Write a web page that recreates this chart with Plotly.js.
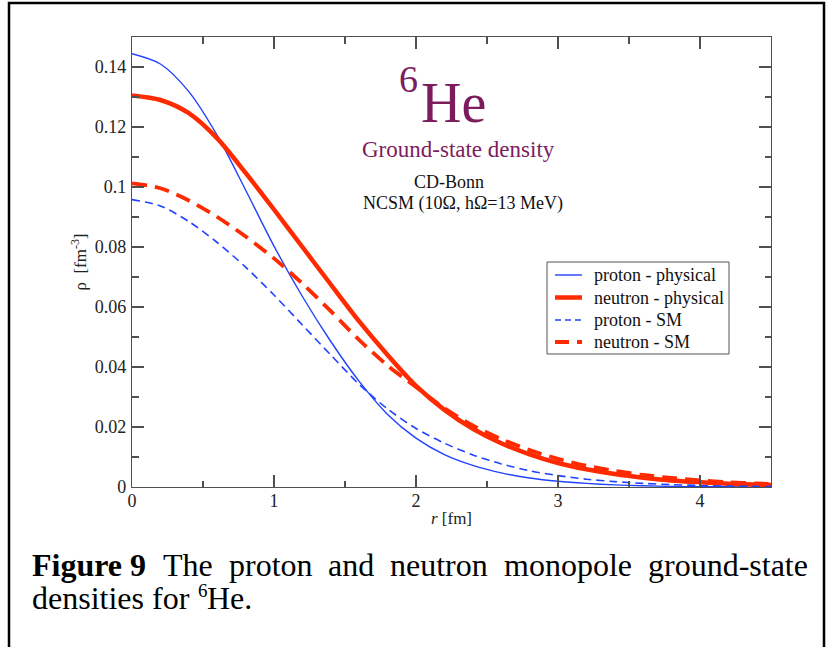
<!DOCTYPE html>
<html>
<head>
<meta charset="utf-8">
<script src="https://cdn.plot.ly/plotly-3.0.1.min.js"></script>
<style>
html,body{margin:0;padding:0;background:#fff;}
#chart{width:827px;height:647px;}
</style>
</head>
<body>
<div id="chart"></div>
<script>
// ---- data ----
const r = [0,0.2,0.4,0.6,0.8,1.0,1.2,1.4,1.6,1.8,2.0,2.2,2.4,2.6,2.8,3.0,3.2,3.4,3.6,3.8,4.0,4.2,4.4,4.5];
const protonPhysical  = [0.1444,0.1410,0.1318,0.1172,0.0990,0.0803,0.0635,0.0485,0.0352,0.0242,0.0163,0.0108,0.0072,0.0047,0.0030,0.0019,0.0012,0.0007,0.0004,0.0002,0.0001,0.0001,0.0000,0.0000];
const neutronPhysical = [0.1305,0.1290,0.1246,0.1162,0.1047,0.0925,0.0800,0.0675,0.0552,0.0440,0.0337,0.0257,0.0194,0.0146,0.0109,0.0080,0.0059,0.0043,0.0031,0.0022,0.0016,0.0011,0.0008,0.0007];
const protonSM        = [0.0958,0.0937,0.0885,0.0815,0.0733,0.0640,0.0540,0.0440,0.0342,0.0260,0.0195,0.0146,0.0107,0.0077,0.0054,0.0038,0.0026,0.0018,0.0012,0.0008,0.0005,0.0003,0.0002,0.0002];
const neutronSM       = [0.1012,0.0996,0.0955,0.0900,0.0835,0.0762,0.0678,0.0586,0.0490,0.0405,0.0333,0.0263,0.0205,0.0160,0.0123,0.0094,0.0071,0.0054,0.0040,0.0030,0.0022,0.0016,0.0012,0.0010];
const seriesNames = ["proton - physical","neutron - physical","proton - SM","neutron - SM"];
const xTickVals = [0,1,2,3,4];
const yTickVals = [0,0.02,0.04,0.06,0.08,0.1,0.12,0.14];
const yTickText = ["0","0.02","0.04","0.06","0.08","0.1","0.12","0.14"];
const captionWords = ["<b>Figure 9</b>","The","proton","and","neutron","monopole","ground-state"];
const captionLine2 = ["densities for","6","He."];

// ---- layout helpers (pixel -> paper) ----
const L = 132, R = 771, T = 37, B = 487;
const xp = px => (px - L) / (R - L);
const yp = py => (B - py) / (B - T);

const BLUE = "#2142ff", RED = "#ff2a00", PURPLE = "#7c1c5c";
const SERIF = "Liberation Serif, Times New Roman, serif";

const styles = [
  {color:BLUE, width:1.4, dash:"solid"},
  {color:RED, width:4.5, dash:"solid"},
  {color:BLUE, width:1.6, dash:"8px,5px"},
  {color:RED, width:3.8, dash:"15px,8px"}
];
const seriesValues = [protonPhysical, neutronPhysical, protonSM, neutronSM];

const traces = seriesValues.map((vals,i) => ({
  x:r, y:vals, name:seriesNames[i], mode:"lines",
  line:{color:styles[i].color, width:styles[i].width, dash:styles[i].dash, shape:"spline", smoothing:0.8}
}));

const axisCommon = {
  showline:true, linecolor:"#505050", linewidth:1.2, mirror:"ticks",
  ticks:"inside", ticklen:12, tickwidth:1.2, tickcolor:"#505050",
  showgrid:false, zeroline:false,
  tickfont:{family:SERIF, size:18, color:"#222"}
};

const captionX = [30,161,227,326,388,502,646];
const annotations = [
  {text:"He", x:xp(453), y:yp(103), xref:"paper", yref:"paper", showarrow:false,
   xanchor:"center", yanchor:"middle", font:{family:SERIF, size:56, color:PURPLE}},
  {text:"6", x:xp(408.5), y:yp(79), xref:"paper", yref:"paper", showarrow:false,
   xanchor:"center", yanchor:"middle", font:{family:SERIF, size:38, color:PURPLE}},
  {text:"Ground-state density", x:xp(458), y:yp(149), xref:"paper", yref:"paper", showarrow:false,
   xanchor:"center", yanchor:"middle", font:{family:SERIF, size:23, color:PURPLE}},
  {text:"CD-Bonn", x:xp(449), y:yp(182), xref:"paper", yref:"paper", showarrow:false,
   xanchor:"center", yanchor:"middle", font:{family:SERIF, size:18, color:"#111"}},
  {text:"NCSM (10Ω, hΩ=13 MeV)", x:xp(463), y:yp(204), xref:"paper", yref:"paper", showarrow:false,
   xanchor:"center", yanchor:"middle", font:{family:SERIF, size:18, color:"#111"}},
  {text:captionLine2[0], x:xp(30), y:yp(598), xref:"paper", yref:"paper", showarrow:false,
   xanchor:"left", yanchor:"middle", font:{family:SERIF, size:32, color:"#000"}},
  {text:captionLine2[1], x:xp(196), y:yp(590), xref:"paper", yref:"paper", showarrow:false,
   xanchor:"left", yanchor:"middle", font:{family:SERIF, size:19, color:"#000"}},
  {text:captionLine2[2], x:xp(205), y:yp(598), xref:"paper", yref:"paper", showarrow:false,
   xanchor:"left", yanchor:"middle", font:{family:SERIF, size:32, color:"#000"}}
];
captionWords.forEach((w,i) => annotations.push({
  text:w, x:xp(captionX[i]), y:yp(565), xref:"paper", yref:"paper", showarrow:false,
  xanchor:"left", yanchor:"middle", font:{family:SERIF, size:32, color:"#000"}
}));

// legend drawn as box + samples + labels
const legRows = [275, 297.5, 320, 342];
const shapes = [
  {type:"path", xref:"paper", yref:"paper",
   path:`M ${xp(9)},${yp(660)} L ${xp(9)},${yp(3)} L ${xp(824)},${yp(3)} L ${xp(824)},${yp(660)}`,
   line:{color:"#000", width:2.5}},
  {type:"rect", xref:"paper", yref:"paper", x0:xp(547), x1:xp(729), y0:yp(262), y1:yp(354),
   line:{color:"#555", width:1}, fillcolor:"#fff", layer:"above"}
];
seriesNames.forEach((n,i) => {
  shapes.push({type:"line", xref:"paper", yref:"paper", x0:xp(555), x1:xp(582), y0:yp(legRows[i]), y1:yp(legRows[i]),
    line:{color:styles[i].color, width:styles[i].width, dash:styles[i].dash === "solid" ? "solid" : (i===2 ? "6px,4px" : "14px,8px")}, layer:"above"});
  annotations.push({text:n, x:xp(592), y:yp(legRows[i]), xref:"paper", yref:"paper", showarrow:false,
    xanchor:"left", yanchor:"middle", font:{family:SERIF, size:18, color:"#111"}});
});

const layout = {
  width:827, height:647,
  margin:{l:L, r:827-R, t:T, b:647-B, pad:0},
  paper_bgcolor:"#fff", plot_bgcolor:"#fff",
  showlegend:false,
  xaxis:Object.assign({}, axisCommon, {
    range:[0,4.5], tickmode:"array", tickvals:xTickVals, ticklabelstandoff:-3,
    minor:{dtick:0.5, ticks:"inside", ticklen:6.5, tickwidth:1.2, tickcolor:"#505050"},
    title:{text:"<i>r</i> [fm]", font:{family:SERIF, size:17, color:"#222"}, standoff:2}
  }),
  yaxis:Object.assign({}, axisCommon, {
    range:[0,0.15], tickmode:"array", tickvals:yTickVals, ticktext:yTickText, ticklabelstandoff:1,
    minor:{dtick:0.01, ticks:"inside", ticklen:6.5, tickwidth:1.2, tickcolor:"#505050"},
    title:{text:"ρ  [fm<sup>-3</sup>]", font:{family:SERIF, size:17, color:"#222"}, standoff:3}
  }),
  annotations:annotations,
  shapes:shapes
};

Plotly.newPlot("chart", traces, layout, {displayModeBar:false, staticPlot:true});
</script>
</body>
</html>
